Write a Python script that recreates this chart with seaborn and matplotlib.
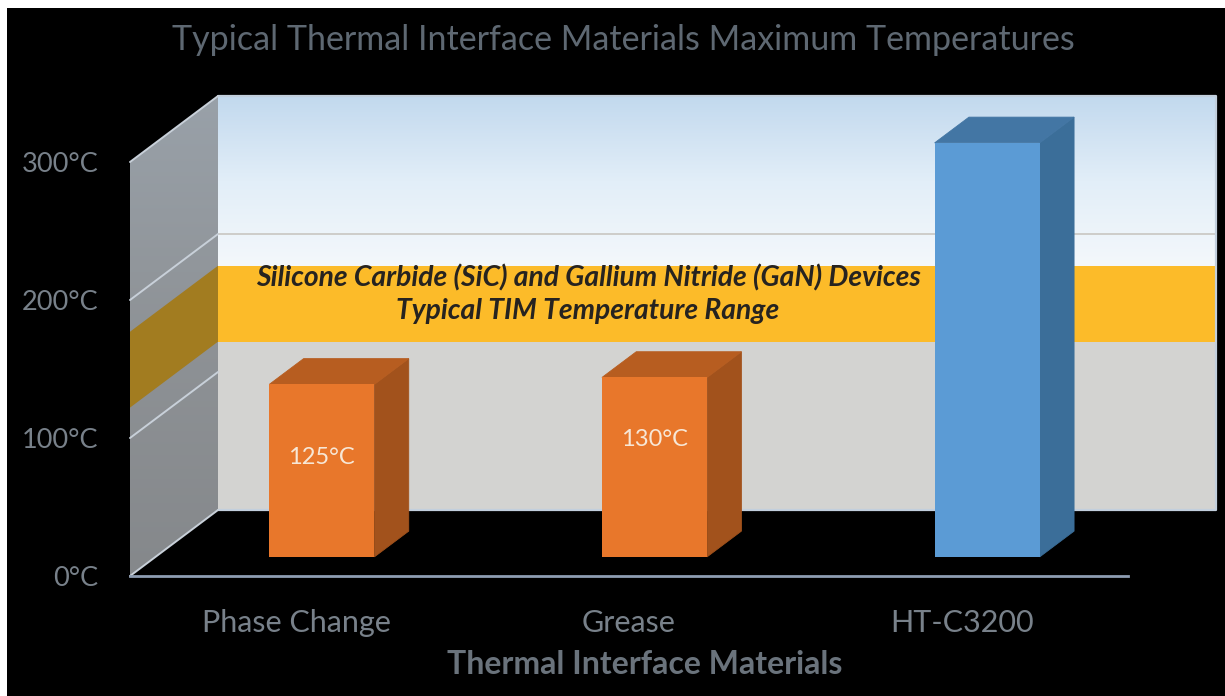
import numpy as np
import matplotlib
matplotlib.use("Agg")
import matplotlib.pyplot as plt
import seaborn as sns
from matplotlib.patches import Polygon, Rectangle
from matplotlib.colors import LinearSegmentedColormap

# ---- data -------------------------------------------------------------
categories = ["Phase Change", "Grease", "HT-C3200"]
max_temps = [125, 130, 300]
value_label_heights = [72, 85]          # where the °C labels sit inside the orange bars
y_ticks = [0, 100, 200, 300]
band_range = [122, 177]                  # SiC / GaN typical TIM range
band_lines = ["Silicone Carbide (SiC) and Gallium Nitride (GaN) Devices",
              "Typical TIM Temperature Range"]
title = "Typical Thermal Interface Materials Maximum Temperatures"
x_title = "Thermal Interface Materials"

# ---- styles -----------------------------------------------------------
face_colors = ["#e8772b", "#e8772b", "#5b9bd5"]
side_colors = ["#a2521c", "#a2521c", "#3b6e99"]
top_colors = ["#b75d20", "#b75d20", "#4376a4"]

W, H, DPI = 1225, 696, 100
sns.set_theme(style="white")
plt.rcParams["font.family"] = ["Lato", "DejaVu Sans"]

fig = plt.figure(figsize=(W / DPI, H / DPI), dpi=DPI, facecolor="white")
fig.add_artist(Rectangle((7 / W, 0), 1, (H - 8) / H, transform=fig.transFigure,
                         facecolor="black", edgecolor="none", zorder=-20))


def px_axes(x0, x1, y_top, y_bot):
    return fig.add_axes([x0 / W, (H - y_bot) / H, (x1 - x0) / W, (y_bot - y_top) / H])


# front plane of the 3-D box
FX0, FX1, FYT, FYB = 130, 1128, 162, 576
ax = px_axes(FX0, FX1, FYT, FYB)
XMIN, XMAX, YMIN, YMAX = -0.5, 2.5, 0, 300
px_per_x = (FX1 - FX0) / (XMAX - XMIN)
px_per_y = (FYB - FYT) / (YMAX - YMIN)

# oblique depth vector (full depth of the box) in data units
DX = 88 / px_per_x
DY = 66 / px_per_y

ax.patch.set_alpha(0)

# back wall: gray lower part, amber band, sky gradient above
ax.add_patch(Rectangle((XMIN + DX, YMIN + DY), XMAX - XMIN, band_range[0] - YMIN,
                       facecolor="#d3d3d1", edgecolor="none", clip_on=False, zorder=1))
ax.add_patch(Rectangle((XMIN + DX, band_range[0] + DY), XMAX - XMIN,
                       band_range[1] - band_range[0],
                       facecolor="#fcbb29", edgecolor="none", clip_on=False, zorder=1))
sky = LinearSegmentedColormap.from_list("sky", ["#f4f8fb", "#e2eef8", "#c2d9ee"])
grad = np.linspace(0, 1, 256).reshape(-1, 1)
im = ax.imshow(grad, cmap=sky, origin="lower", aspect="auto",
               extent=(XMIN + DX, XMAX + DX, band_range[1] + DY, YMAX + DY),
               interpolation="bilinear", zorder=1)
im.set_clip_on(False)

# back-wall gridline above the band
for t in y_ticks[1:-1]:
    if t > band_range[1]:
        ax.plot([XMIN + DX, XMAX + DX], [t + DY, t + DY], color="#cbc9c6", lw=1.3,
                clip_on=False, zorder=2)

# back-wall outline
edge = "#c2cfdd"
ax.plot([XMIN + DX, XMAX + DX, XMAX + DX, XMIN + DX],
        [YMIN + DY, YMIN + DY, YMAX + DY, YMAX + DY],
        color=edge, lw=1.6, clip_on=False, zorder=3)

# left side wall with a vertical gray gradient
side_poly = Polygon([(XMIN, YMIN), (XMIN + DX, YMIN + DY), (XMIN + DX, YMAX + DY),
                     (XMIN, YMAX)], closed=True, facecolor="none", edgecolor="none",
                    transform=ax.transData)
ax.add_patch(side_poly)
side_grad = LinearSegmentedColormap.from_list("side", ["#85888b", "#8e9296", "#99a1a9"])
im2 = ax.imshow(grad, cmap=side_grad, origin="lower", aspect="auto",
                extent=(XMIN, XMIN + DX, YMIN, YMAX + DY), interpolation="bilinear",
                zorder=2)
im2.set_clip_path(side_poly)
im2.set_clip_box(fig.bbox)
ax.add_patch(Polygon([(XMIN, band_range[0]), (XMIN + DX, band_range[0] + DY),
                      (XMIN + DX, band_range[1] + DY), (XMIN, band_range[1])],
                     closed=True, facecolor="#a27c20", edgecolor="none",
                     clip_on=False, zorder=2.5))
for t in y_ticks:
    ax.plot([XMIN, XMIN + DX], [t, t + DY], color="#c8d0d9", lw=1.4,
            clip_on=False, zorder=3)

ax.set_xlim(XMIN, XMAX)
ax.set_ylim(YMIN, YMAX)

# axes, ticks and labels on the front plane
for s in ["left", "top", "right"]:
    ax.spines[s].set_visible(False)
ax.spines["bottom"].set_color("#8e9db2")
ax.spines["bottom"].set_linewidth(2)
ax.spines["bottom"].set_zorder(4)
ax.set_xticks(range(len(categories)))
ax.set_xticklabels(categories)
ax.set_yticks(y_ticks)
ax.set_yticklabels([f"{t}°C" for t in y_ticks])
ax.tick_params(axis="x", length=0, pad=24, labelsize=22, labelcolor="#78818a")
ax.tick_params(axis="y", length=0, pad=23, labelsize=19.5, labelcolor="#78818a")
ax.grid(False)

# bars sit in a plane part way into the box
D0, DB = 0.29, 0.39
axb = px_axes(FX0 + 88 * D0, FX1 + 88 * D0, FYT - 66 * D0, FYB - 66 * D0)
sns.barplot(x=categories, y=max_temps, hue=categories, palette=face_colors,
            width=0.316, saturation=1, legend=False, linewidth=0, ax=axb, zorder=5)
axb.set_xlim(XMIN, XMAX)
axb.set_ylim(YMIN, YMAX)
axb.set_axis_off()

bdx, bdy = DX * DB, DY * DB
for i, bar in enumerate(axb.patches):
    x, w, h = bar.get_x(), bar.get_width(), bar.get_height()
    axb.add_patch(Polygon([(x + w, 0), (x + w + bdx, bdy), (x + w + bdx, h + bdy),
                           (x + w, h)], closed=True, facecolor=side_colors[i],
                          edgecolor=side_colors[i], lw=0.6, clip_on=False, zorder=4.9))
    axb.add_patch(Polygon([(x, h), (x + bdx, h + bdy), (x + w + bdx, h + bdy),
                           (x + w, h)], closed=True, facecolor=top_colors[i],
                          edgecolor=top_colors[i], lw=0.6, clip_on=False, zorder=4.9))
    bar.set_clip_on(False)
    bar.set_edgecolor("none")

for i, yh in enumerate(value_label_heights):
    axb.text(i, yh, f"{max_temps[i]}°C", ha="center", va="center",
             fontsize=17, color="#f7e7d6", zorder=6)

# band annotation on the back wall
band_mid_px_x = 588
bx = (band_mid_px_x - FX0) / px_per_x + XMIN
for line, py in zip(band_lines, [278, 311]):
    ax.text(bx, (FYB - py) / px_per_y, line, ha="center", va="center",
            fontsize=20.3, fontweight="bold", fontstyle="italic", color="#262320",
            zorder=4)

fig.text(623 / W, 1 - 40 / H, title, ha="center", va="center", fontsize=24.5,
         color="#5e6872")
fig.text(645 / W, 1 - 664 / H, x_title, ha="center", va="center", fontsize=23,
         fontweight="bold", color="#6a737c")

fig.savefig("out.png", dpi=DPI, facecolor="white")
